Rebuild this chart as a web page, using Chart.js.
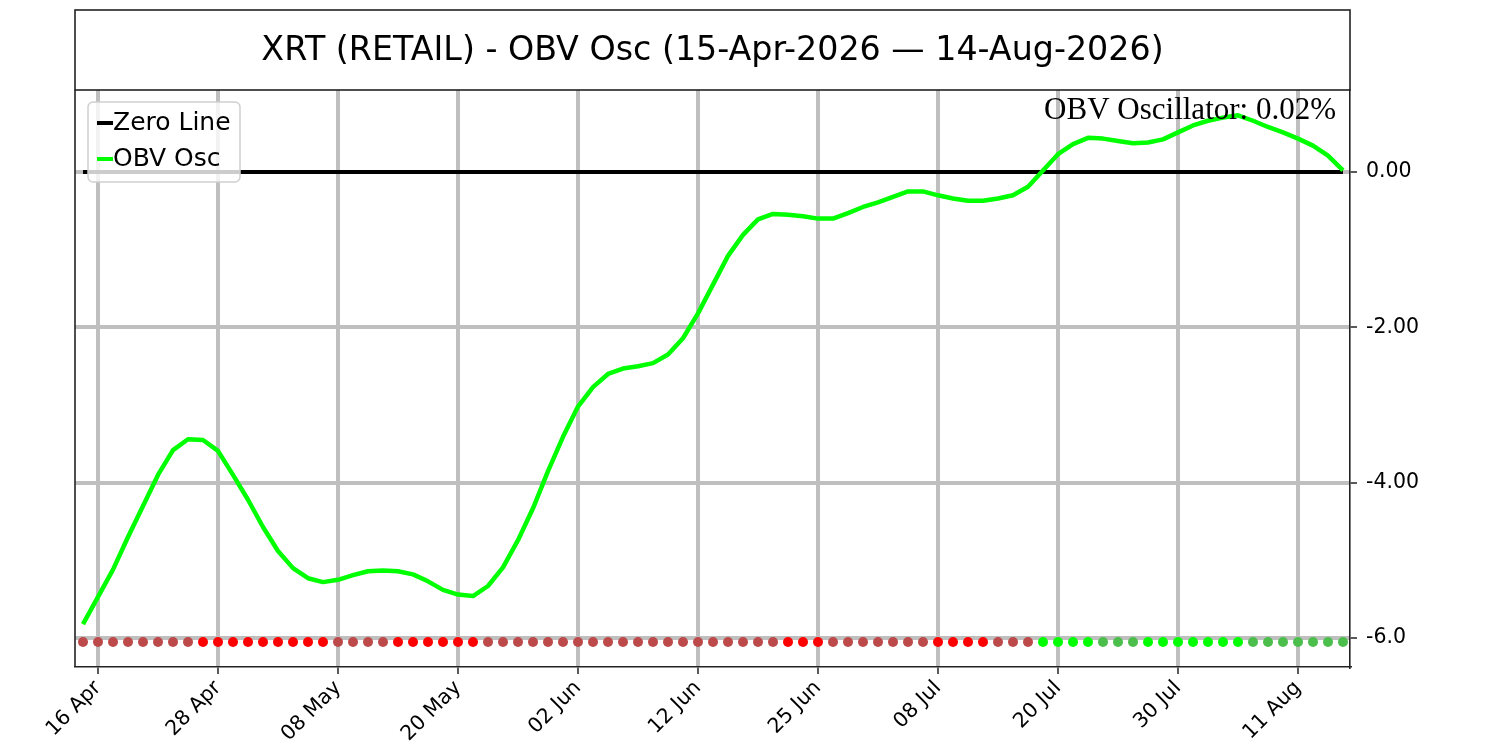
<!DOCTYPE html>
<html>
<head>
<meta charset="utf-8">
<script src="https://cdn.jsdelivr.net/npm/chart.js@4.4.1/dist/chart.umd.min.js"></script>
<style>
  html, body { margin: 0; padding: 0; background: #fff; }
  canvas { display: block; }
</style>
</head>
<body>
<canvas id="obvChart" width="1500" height="750"></canvas>
<script>
// XRT OBV oscillator, one value per trading day (15 Apr .. 14 Aug 2026)
const obvOsc = [
  -5.82, -5.47, -5.12, -4.70, -4.30, -3.90, -3.58, -3.44, -3.45, -3.59,
  -3.90, -4.22, -4.57, -4.88, -5.10, -5.23, -5.28, -5.25, -5.19, -5.14,
  -5.13, -5.14, -5.18, -5.27, -5.38, -5.44, -5.46, -5.33, -5.09, -4.74,
  -4.33, -3.85, -3.41, -3.02, -2.77, -2.60, -2.53, -2.50, -2.46, -2.35,
  -2.14, -1.82, -1.45, -1.08, -0.81, -0.61, -0.54, -0.55, -0.57, -0.60,
  -0.60, -0.53, -0.45, -0.39, -0.32, -0.25, -0.25, -0.30, -0.34, -0.37,
  -0.37, -0.34, -0.30, -0.19, 0.02, 0.23, 0.36, 0.44, 0.43, 0.40,
  0.37, 0.38, 0.42, 0.51, 0.60, 0.66, 0.70, 0.73, 0.66, 0.58,
  0.51, 0.43, 0.34, 0.21, 0.02
];

// signal dots along the bottom: r = red, dr = dark red, g = green, dg = dark green
const signalState = [
  'dr','dr','dr','dr','dr','dr','dr','dr','r','r',
  'r','r','r','r','r','r','r','dr','dr','dr',
  'dr','r','r','r','r','r','r','dr','dr','dr',
  'dr','dr','dr','dr','dr','dr','dr','dr','dr','dr',
  'dr','dr','dr','dr','dr','dr','dr','r','r','r',
  'dr','dr','dr','dr','dr','dr','dr','r','r','r',
  'r','dr','dr','dr','g','g','g','g','dg','dg',
  'dg','g','g','g','g','g','g','g','dg','dg',
  'dg','dg','dg','dg','dg'
];
const signalLevel = -6.05;
const zeroLevel = 0;

const xTickIndex = [1, 9, 17, 25, 33, 41, 49, 57, 65, 73, 81];
const xTickLabels = ['16 Apr', '28 Apr', '08 May', '20 May', '02 Jun', '12 Jun',
                     '25 Jun', '08 Jul', '20 Jul', '30 Jul', '11 Aug'];
const yTickValues = [0, -2, -4, -6];
const yTickLabels = ['0.00', '-2.00', '-4.00', '-6.0'];

const legendOrder = ['Zero Line', 'OBV Osc'];
const titleText = 'XRT (RETAIL) - OBV Osc (15-Apr-2026 \u2014 14-Aug-2026)';
const lastValueText = 'OBV Oscillator: 0.02%';

const dotColors = {
    r: '#ff0000',
    dr: '#bc4a4a',
    g: '#00ff00',
    dg: '#4cbe4c'
};

const frameColor = '#222222';
const sansFont = '"DejaVu Sans", "Liberation Sans", sans-serif';

const framePlugin = {
    id: 'framePlugin',
    beforeDraw(chart) {
        const c = chart.ctx;
        c.save();
        c.fillStyle = '#ffffff';
        c.fillRect(0, 0, chart.width, chart.height);
        c.restore();
    },
    afterDraw(chart) {
        const c = chart.ctx;
        const area = chart.chartArea;
        c.save();

        // title box above the plot
        c.strokeStyle = frameColor;
        c.lineWidth = 1.6;
        c.strokeRect(area.left, 10, area.right - area.left, area.top - 10);
        c.fillStyle = '#000';
        c.font = '33.3px ' + sansFont;
        c.textAlign = 'center';
        c.textBaseline = 'middle';
        c.fillText(titleText, (area.left + area.right) / 2, 51);

        // left spine
        c.beginPath();
        c.moveTo(area.left, area.top);
        c.lineTo(area.left, area.bottom);
        c.stroke();

        // last value note
        c.font = '31px "Liberation Serif", "DejaVu Serif", serif';
        c.textAlign = 'right';
        c.textBaseline = 'top';
        c.fillText(lastValueText, area.right - 14, 95);

        // legend in the upper left corner
        const lx = area.left + 13, ly = area.top + 12, lw = 152, lh = 80;
        c.beginPath();
        c.roundRect(lx, ly, lw, lh, 5);
        c.fillStyle = 'rgba(255,255,255,0.8)';
        c.fill();
        c.strokeStyle = '#d0d0d0';
        c.lineWidth = 1.5;
        c.stroke();
        c.font = '25px ' + sansFont;
        c.textAlign = 'left';
        c.textBaseline = 'middle';
        legendOrder.forEach((name, i) => {
            const d = chart.data.datasets.find(ds => ds.label === name);
            const y = ly + 21 + i * 36;
            c.strokeStyle = d.borderColor;
            c.lineWidth = 4;
            c.beginPath();
            c.moveTo(lx + 9, y);
            c.lineTo(lx + 25, y);
            c.stroke();
            c.fillStyle = '#000';
            c.fillText(d.label, lx + 25, y);
        });

        c.restore();
    }
};

const ctx = document.getElementById('obvChart').getContext('2d');
const obvChart = new Chart(ctx, {
    type: 'line',
    data: {
        datasets: [
            {
                label: 'Signal',
                data: signalState.map((s, i) => ({ x: i, y: signalLevel })),
                showLine: false,
                pointRadius: 5,
                pointBackgroundColor: signalState.map(s => dotColors[s]),
                pointBorderWidth: 0,
                order: 1
            },
            {
                label: 'OBV Osc',
                data: obvOsc.map((v, i) => ({ x: i, y: v })),
                borderColor: '#00ff00',
                borderWidth: 4.5,
                pointRadius: 0,
                borderJoinStyle: 'round',
                order: 2
            },
            {
                label: 'Zero Line',
                data: obvOsc.map((v, i) => ({ x: i, y: zeroLevel })),
                borderColor: '#000000',
                borderWidth: 4,
                pointRadius: 0,
                order: 3
            }
        ]
    },
    options: {
        responsive: false,
        animation: false,
        devicePixelRatio: 1,
        layout: { padding: { left: 75, top: 90, right: 0, bottom: 0 } },
        plugins: {
            legend: { display: false },
            title: { display: false },
            tooltip: { enabled: false }
        },
        scales: {
            x: {
                type: 'linear',
                min: -0.533,
                max: 84.467,
                afterBuildTicks: scale => {
                    scale.ticks = xTickIndex.map(v => ({ value: v }));
                },
                afterFit: scale => { scale.height = 83; },
                ticks: {
                    autoSkip: false,
                    minRotation: 45,
                    maxRotation: 45,
                    padding: 2,
                    color: '#000',
                    font: { family: sansFont, size: 20.5 },
                    callback: (value, index) => xTickLabels[index]
                },
                grid: {
                    color: '#bfbfbf',
                    lineWidth: 4,
                    tickColor: frameColor,
                    tickWidth: 1.5,
                    tickLength: 7
                },
                border: { color: frameColor, width: 1.6 }
            },
            y: {
                type: 'linear',
                position: 'right',
                min: -6.373,
                max: 1.056,
                afterBuildTicks: scale => {
                    scale.ticks = yTickValues.map(v => ({ value: v }));
                },
                afterFit: scale => { scale.width = 150; },
                ticks: {
                    padding: 9,
                    color: '#000',
                    font: { family: sansFont, size: 20.5 },
                    callback: (value, index) => yTickLabels[index]
                },
                grid: {
                    color: '#bfbfbf',
                    lineWidth: 4,
                    tickColor: frameColor,
                    tickWidth: 1.5,
                    tickLength: 7
                },
                border: { color: frameColor, width: 1.6 }
            }
        }
    },
    plugins: [framePlugin]
});
</script>
</body>
</html>
